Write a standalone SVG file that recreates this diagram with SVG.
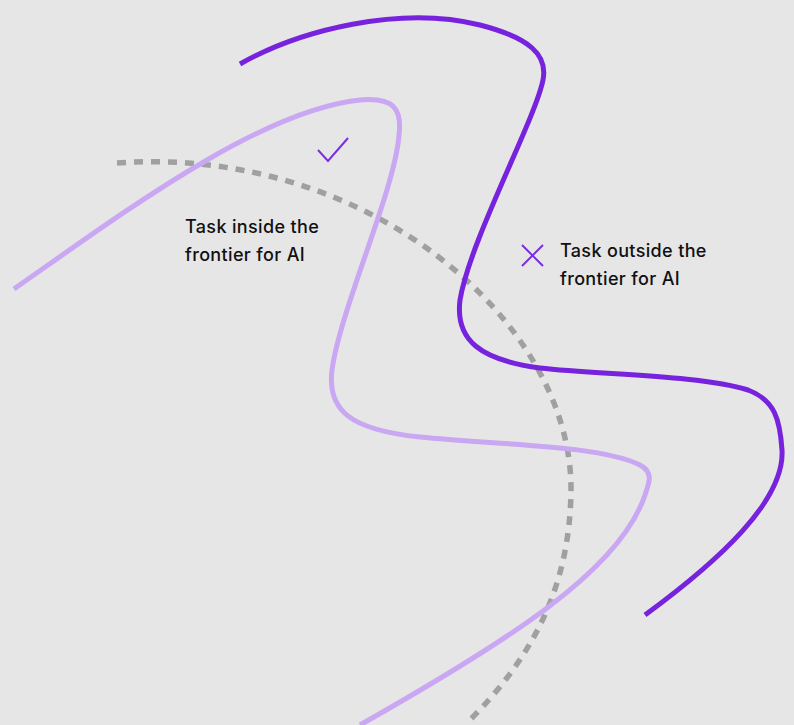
<svg xmlns="http://www.w3.org/2000/svg" width="794" height="725" viewBox="0 0 794 725">
<style>
.dark{fill:none;stroke:#7722dd;stroke-width:5;}
.light{fill:none;stroke:#c9a7f3;stroke-width:5;}
.dash{fill:none;stroke:#a0a0a0;stroke-width:5.5;stroke-dasharray:9 8;}
.mark{fill:none;stroke:#7a2fe0;stroke-width:2;}
.lbl{font-family:Inter,"Noto Sans",sans-serif;font-size:18px;font-weight:500;letter-spacing:0.35px;fill:#111;}
</style>
<rect width="794" height="725" fill="#e6e6e6"/>
<g id="connectors">
<path id="frontier" class="dash" d="M117,163 C365,145 572,320 571,490 C570,590 530,660 468,722"/>
<path id="light-curve" class="light" d="M14,289 C120,215 260,110 360,100 C395,97 402,110 399,135 C395,190 340,310 332,370 C327,410 350,430 420,437 C500,445 600,445 640,465 C655,473 648,485 645,495 C620,570 510,640 360,725"/>
<path id="dark-curve" class="dark" d="M240,64 C300,30 400,5 480,25 C530,38 548,55 543,80 C535,120 470,240 460,300 C455,340 480,360 540,368 C600,375 700,375 748,390 C775,400 780,420 782,450 C785,500 720,560 645,615"/>
</g>
<g id="inside">
<path class="mark" d="M318,150 L328,161 L348,138"/>
<text class="lbl" x="185" y="233">Task inside the</text>
<text class="lbl" x="185" y="261">frontier for AI</text>
</g>
<g id="outside">
<path class="mark" d="M522,245 L543,266 M543,245 L522,266"/>
<text class="lbl" x="560" y="257">Task outside the</text>
<text class="lbl" x="560" y="285">frontier for AI</text>
</g>
</svg>
